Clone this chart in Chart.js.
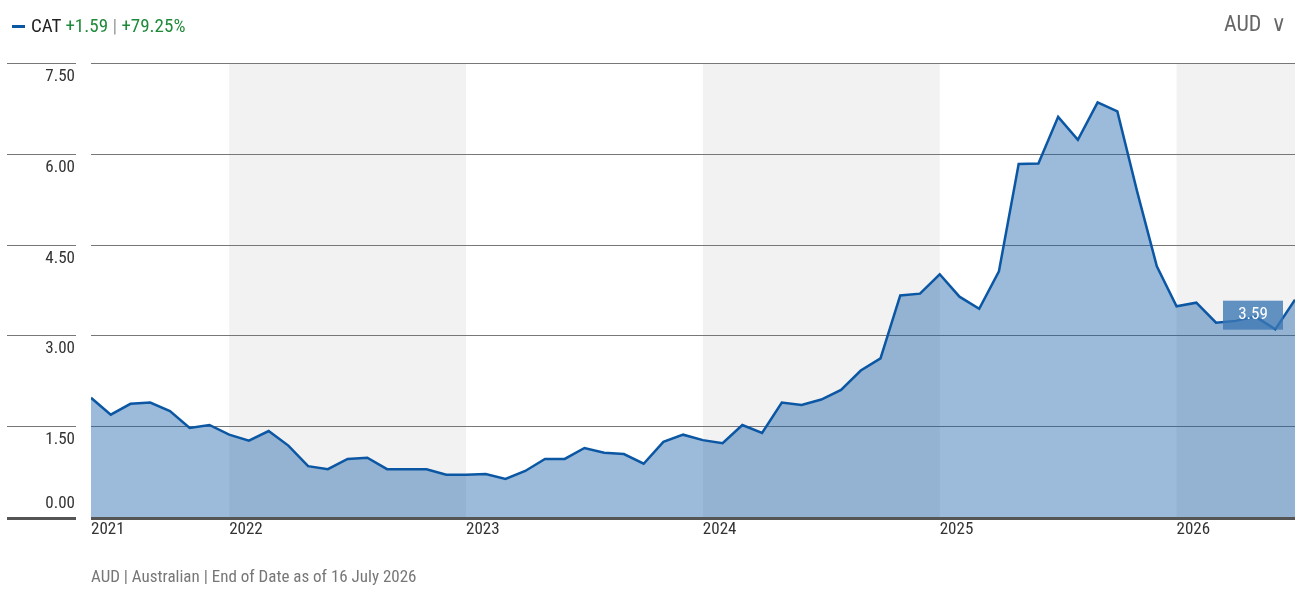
<!DOCTYPE html>
<html lang="en">
<head>
<meta charset="UTF-8" />
<title>CAT</title>
<script src="https://cdn.jsdelivr.net/npm/chart.js@4"></script>
<style>
  body { margin: 0; background: #fff; font-family: "Liberation Sans Narrow", "Roboto Condensed", "DejaVu Sans Condensed", sans-serif; }
  #wrap { position: relative; width: 1311px; height: 595px; }
  #legend { position: absolute; left: 12px; top: 14px; font-size: 19px; color: #222; }
  #legend .sw { display: inline-block; width: 13px; height: 3px; background: #0b57a4; vertical-align: middle; margin-right: 6px; }
  #legend .g { color: #1f8a3a; }
  #legend .bar { color: #999; }
  #cur { position: absolute; right: 25px; top: 11px; font-size: 22px; color: #666; }
  #foot { position: absolute; left: 91px; top: 566px; font-size: 17px; color: #777; }
  canvas { position: absolute; left: 0; top: 0; }
</style>
</head>
<body>
<div id="wrap">
  <canvas id="c" width="1311" height="595"></canvas>
  <div id="legend"><span class="sw"></span>CAT <span class="g">+1.59</span> <span class="bar">|</span> <span class="g">+79.25%</span></div>
  <div id="cur">AUD &nbsp;&#8744;</div>
  <div id="foot">AUD | Australian | End of Date as of 16 July 2026</div>
</div>
<script>
// monthly values, starting June 2021
const values = [
  1.97, 1.69, 1.87, 1.89, 1.75, 1.47, 1.52, 1.36, 1.26, 1.42, 1.18, 0.84,
  0.79, 0.96, 0.98, 0.79, 0.79, 0.79, 0.70, 0.70, 0.71, 0.63, 0.76, 0.96,
  0.96, 1.14, 1.06, 1.04, 0.88, 1.24, 1.36, 1.27, 1.22, 1.52, 1.39, 1.89,
  1.85, 1.94, 2.10, 2.42, 2.62, 3.66, 3.69, 4.01, 3.64, 3.44, 4.06, 5.83,
  5.84, 6.61, 6.23, 6.85, 6.70, 5.38, 4.14, 3.48, 3.54, 3.21, 3.24, 3.31,
  3.10, 3.59
];
const yearLabels = ["2021", "2022", "2023", "2024", "2025", "2026"];
const yearIndex = [0, 7, 19, 31, 43, 55];
const yTicks = [0, 1.5, 3, 4.5, 6, 7.5];
const lastValue = "3.59";

const points = values.map((v, i) => ({ x: i, y: v }));
const FONT = '"Liberation Sans Narrow", "Roboto Condensed", "DejaVu Sans Condensed", sans-serif';

const decor = {
  id: "decor",
  beforeDatasetsDraw(chart) {
    const { ctx, chartArea: a, scales: { x, y } } = chart;
    ctx.save();
    // alternate year bands
    ctx.fillStyle = "#f2f2f2";
    for (let k = 1; k < yearIndex.length; k += 2) {
      const x0 = x.getPixelForValue(yearIndex[k]);
      const x1 = k + 1 < yearIndex.length ? x.getPixelForValue(yearIndex[k + 1]) : a.right;
      ctx.fillRect(x0, a.top, x1 - x0, a.bottom - a.top);
    }
    // grid lines + labels
    ctx.strokeStyle = "#777";
    ctx.lineWidth = 1;
    ctx.fillStyle = "#333";
    ctx.font = "17px " + FONT;
    ctx.textAlign = "right";
    ctx.textBaseline = "bottom";
    yTicks.forEach(t => {
      const py = Math.round(y.getPixelForValue(t)) + 0.5;
      if (t > 0) {
        ctx.beginPath();
        ctx.moveTo(7, py); ctx.lineTo(76, py);
        ctx.moveTo(a.left, py); ctx.lineTo(a.right, py);
        ctx.stroke();
        ctx.fillText(t.toFixed(2), 75, py + 22);
      } else {
        ctx.fillText(t.toFixed(2), 75, py - 5);
      }
    });
    ctx.restore();
  },
  afterDatasetsDraw(chart) {
    const { ctx, chartArea: a, scales: { x, y } } = chart;
    ctx.save();
    // bottom axis
    ctx.fillStyle = "#555";
    const by = Math.round(y.getPixelForValue(0));
    ctx.fillRect(7, by, 69, 3);
    ctx.fillRect(a.left, by, a.right - a.left, 3);
    // year labels
    ctx.fillStyle = "#333";
    ctx.font = "17px " + FONT;
    ctx.textAlign = "left";
    ctx.textBaseline = "top";
    yearLabels.forEach((l, i) => ctx.fillText(l, x.getPixelForValue(yearIndex[i]), by + 4));
    // last value tag
    const ly = y.getPixelForValue(parseFloat(lastValue)) + 15;
    ctx.fillStyle = "rgba(60,120,180,0.8)";
    ctx.fillRect(a.right - 72, ly - 14, 60, 29);
    ctx.fillStyle = "#fff";
    ctx.textAlign = "center";
    ctx.textBaseline = "middle";
    ctx.fillText(lastValue, a.right - 42, ly);
    ctx.restore();
  }
};

new Chart(document.getElementById("c"), {
  type: "line",
  data: {
    datasets: [{
      data: points,
      borderColor: "#0b57a4",
      borderWidth: 2.5,
      backgroundColor: "rgba(20,90,165,0.42)",
      fill: "origin",
      pointRadius: 0,
      tension: 0
    }]
  },
  options: {
    responsive: false,
    animation: false,
    layout: { padding: { left: 91, right: 16, top: 63, bottom: 78 } },
    plugins: { legend: { display: false }, tooltip: { enabled: false } },
    scales: {
      x: { type: "linear", min: 0, max: values.length - 1, display: false },
      y: { min: 0, max: 7.5, display: false }
    }
  },
  plugins: [decor]
});
</script>
</body>
</html>
